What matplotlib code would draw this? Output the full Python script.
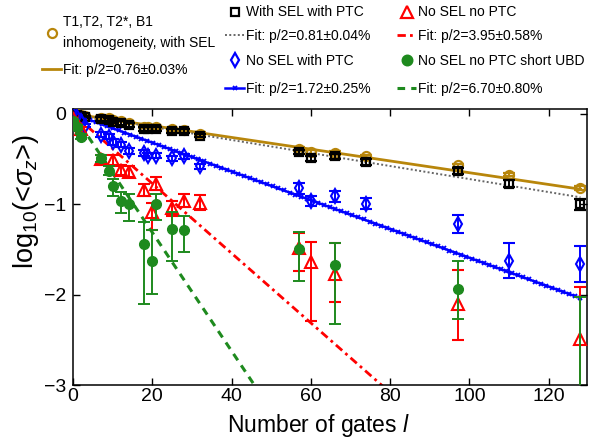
import matplotlib
matplotlib.use("Agg")
import matplotlib.pyplot as plt
import numpy as np
from matplotlib.lines import Line2D
from matplotlib import font_manager

# ---------------- data ----------------
x_gold = [0, 1, 2, 3, 7, 9, 10, 12, 14, 18, 19, 21, 25, 28, 32, 57, 60, 66, 74, 97, 110, 128]
y_gold = [0, -0.005, -0.01, -0.02, -0.04, -0.05, -0.065, -0.08, -0.10, -0.14, -0.145, -0.15,
          -0.17, -0.18, -0.22, -0.39, -0.42, -0.43, -0.47, -0.57, -0.67, -0.82]
e_gold = [0.01] * 4 + [0.015] * 11 + [0.02] * 7

x_blk = [0, 1, 2, 3, 7, 9, 10, 12, 14, 18, 19, 21, 25, 28, 32, 57, 60, 66, 74, 97, 110, 128]
y_blk = [0, -0.01, -0.02, -0.03, -0.055, -0.066, -0.085, -0.10, -0.12, -0.165, -0.17, -0.17,
         -0.19, -0.19, -0.24, -0.42, -0.49, -0.47, -0.53, -0.63, -0.77, -1.00]
e_blk = [0.01] * 4 + [0.02] * 11 + [0.025, 0.03, 0.025, 0.03, 0.03, 0.035, 0.065]

x_blue = [0, 1, 2, 3, 7, 9, 10, 12, 14, 18, 19, 21, 25, 28, 32, 57, 60, 66, 74, 97, 110, 128]
y_blue = [0, -0.03, -0.08, -0.13, -0.23, -0.25, -0.31, -0.34, -0.41, -0.43, -0.46, -0.46,
          -0.49, -0.47, -0.58, -0.82, -0.96, -0.91, -0.99, -1.22, -1.62, -1.66]
e_blue = [0.02] * 4 + [0.03] * 11 + [0.06, 0.055, 0.06, 0.06, 0.1, 0.19, 0.2]

x_red = [0, 1, 2, 7, 10, 12, 14, 18, 20, 21, 25, 28, 32, 57, 60, 66, 97, 128]
y_red = [-0.04, -0.10, -0.17, -0.50, -0.51, -0.62, -0.64, -0.84, -1.08, -0.77, -1.04, -0.96,
         -0.98, -1.48, -1.64, -1.77, -2.10, -2.49]
e_red_lo = [0.02, 0.03, 0.03, 0.05, 0.06, 0.05, 0.06, 0.07, 0.20, 0.07, 0.09, 0.07, 0.08,
            0.26, 0.65, 0.31, 0.40, 1.0]
e_red_hi = [0.02, 0.03, 0.03, 0.05, 0.06, 0.05, 0.06, 0.07, 0.10, 0.07, 0.08, 0.07, 0.08,
            0.16, 0.23, 0.34, 0.38, 0.58]

x_grn = [0, 1, 2, 7, 9, 10, 12, 14, 18, 20, 21, 25, 28, 57, 66, 97, 128]
y_grn = [-0.08, -0.15, -0.25, -0.49, -0.63, -0.80, -0.96, -1.00, -1.44, -1.63, -1.00, -1.27,
         -1.28, -1.49, -1.67, -1.94, -3.30]
e_grn_lo = [0.02, 0.03, 0.03, 0.04, 0.05, 0.11, 0.14, 0.18, 0.66, 0.36, 0.17, 0.35, 0.25,
            0.36, 0.65, 0.33, 1.0]
e_grn_hi = [0.02, 0.03, 0.03, 0.04, 0.05, 0.08, 0.10, 0.11, 0.25, 0.35, 0.12, 0.19, 0.15,
            0.18, 0.24, 0.31, 1.28]

# fit slopes (log10 per gate) and ranges
fit_gold = (-0.0065, 0, 128)
fit_blk = (-0.0072, 0, 128)
fit_blue = (-0.0159, 0, 128)
fit_red = (-0.0385, 0, 80)
fit_grn = (-0.0655, 0, 47)

labels = ["T1,T2, T2*, B1\ninhomogeneity, with SEL", "Fit: p/2=0.76\u00b10.03%",
          "With SEL with PTC", "Fit: p/2=0.81\u00b10.04%",
          "No SEL with PTC", "Fit: p/2=1.72\u00b10.25%",
          "No SEL no PTC", "Fit: p/2=3.95\u00b10.58%",
          "No SEL no PTC short UBD", "Fit: p/2=6.70\u00b10.80%"]

# ---------------- style ----------------
names = {f.name for f in font_manager.fontManager.ttflist}
if "Liberation Sans Narrow" in names:
    leg_family, leg_size = "Liberation Sans Narrow", 12.3
else:
    leg_family, leg_size = "Liberation Sans", 10.0
plt.rcParams["font.family"] = ["Liberation Sans", "DejaVu Sans"]
plt.rcParams["mathtext.fontset"] = "custom"
plt.rcParams["mathtext.rm"] = "Liberation Sans"
plt.rcParams["mathtext.it"] = "Liberation Sans:italic"

GOLD = "#B8860B"
GREEN = "#1E8A1E"
BLUE_LS = dict(color="blue", lw=1.8, marker="x", ms=3.5, mew=1.3)
RED_LS = dict(color="red", lw=2.0, ls=(0, (3, 1.5, 1, 1.5)))
GRN_LS = dict(color=GREEN, lw=2.2, ls=(0, (2.5, 2)))
BLK_LS = dict(color="0.4", lw=1.4, ls=(0, (1, 1.2)))
GOLD_LS = dict(color=GOLD, lw=2.0)

fig = plt.figure(figsize=(5.89, 4.41), dpi=100)
ax = fig.add_axes([0.124, 0.126, 0.873, 0.626])


def fitline(f, n):
    s, a, b = f
    xs = np.linspace(a, b, n)
    return xs, s * xs


xs, ys = fitline(fit_gold, 50)
ax.plot(xs, ys, zorder=2, **GOLD_LS)
xs, ys = fitline(fit_blk, 50)
ax.plot(xs, ys, zorder=2, **BLK_LS)
xs, ys = fitline(fit_blue, 90)
ax.plot(xs, ys, zorder=2, **BLUE_LS)
xs, ys = fitline(fit_red, 50)
ax.plot(xs, ys, zorder=2, **RED_LS)
xs, ys = fitline(fit_grn, 50)
ax.plot(xs, ys, zorder=2, **GRN_LS)

eb = dict(capsize=4, elinewidth=1.4, capthick=1.4, ls="none")
ax.errorbar(x_gold, y_gold, yerr=e_gold, marker="o", ms=6.5, mfc="none", mec=GOLD,
            mew=1.6, color=GOLD, zorder=3, **eb)
ax.errorbar(x_blk, y_blk, yerr=e_blk, marker="s", ms=5.5, mfc="none", mec="black",
            mew=1.6, color="black", zorder=4, **eb)
ax.errorbar(x_blue, y_blue, yerr=e_blue, marker="d", ms=7.5, mfc="none", mec="blue",
            mew=1.5, color="blue", zorder=4, **eb)
ax.errorbar(x_red, y_red, yerr=[e_red_lo, e_red_hi], marker="^", ms=8.5, mfc="none",
            mec="red", mew=1.5, color="red", zorder=4, **eb)
ax.errorbar(x_grn, y_grn, yerr=[e_grn_lo, e_grn_hi], marker="o", ms=7, mfc=GREEN,
            mec=GREEN, color=GREEN, zorder=5, **eb)

ax.set_xlim(0, 129.7)
ax.set_ylim(-3, 0.05)
ax.set_xticks([0, 20, 40, 60, 80, 100, 120])
ax.set_yticks([0, -1, -2, -3])
ax.tick_params(direction="in", length=5, width=1, top=True, right=True, labelsize=14, pad=2)
ax.tick_params(axis="y", pad=5)
for sp in ax.spines.values():
    sp.set_linewidth(1.1)
ax.set_xlabel("Number of gates $\\it{l}$", fontsize=16.5)
ax.xaxis.set_label_coords(0.477, -0.097)
ax.set_ylabel("log$_{10}$(<$\\sigma_z$>)", fontsize=19.5)
ax.yaxis.set_label_coords(-0.062, 0.665)

# ---------------- legend entries ----------------
def mk(marker, color, filled=False, ms=6.5):
    return Line2D([], [], ls="none", marker=marker, ms=ms, mew=1.6,
                  mfc=color if filled else "none", mec=color)


def entry(handle, label, xpx, ypx):
    leg = fig.legend([handle], [label], frameon=False, loc="center left",
                     bbox_to_anchor=(xpx / 589, 1 - ypx / 441), borderaxespad=0, borderpad=0,
                     handlelength=1.4, handletextpad=0.12,
                     prop={"family": leg_family, "size": leg_size})
    for t in leg.get_texts():
        t.set_linespacing(1.55)
    return leg


entry(mk("o", GOLD), labels[0], 42, 32.5)
entry(Line2D([], [], **GOLD_LS), labels[1], 42, 70)
entry(mk("s", "black", ms=5.5), labels[2], 225, 12.5)
entry(Line2D([], [], **BLK_LS), labels[3], 225, 36)
entry(mk("d", "blue", ms=7.5), labels[4], 225, 61)
entry(Line2D([], [], markevery=[1], **BLUE_LS), labels[5], 225, 88.5)
entry(mk("^", "red", ms=8.5), labels[6], 397, 12.5)
entry(Line2D([], [], **RED_LS), labels[7], 397, 36)
entry(mk("o", GREEN, filled=True, ms=7), labels[8], 397, 61)
entry(Line2D([], [], **GRN_LS), labels[9], 397, 88.5)

fig.savefig("out.png", dpi=100)
